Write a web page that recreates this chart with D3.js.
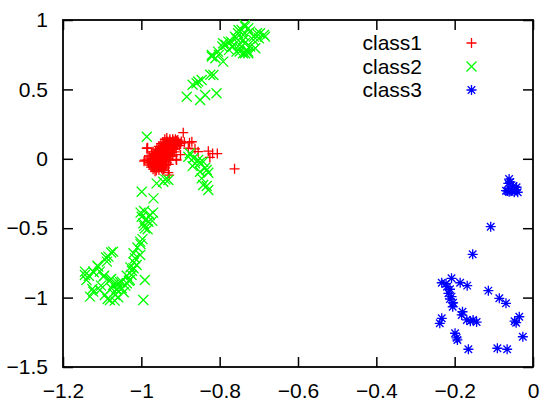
<!DOCTYPE html>
<html><head><meta charset="utf-8">
<script src="https://cdn.jsdelivr.net/npm/d3@7/dist/d3.min.js"></script>
<style>body{margin:0;background:#fff}svg{display:block}text{font-family:"Liberation Sans",Arial,sans-serif;fill:#000}</style>
</head><body><svg id="c" width="545" height="403"></svg>
<script>
const xTicks = [-1.2,-1,-0.8,-0.6,-0.4,-0.2,0];
const yTicks = [1,0.5,0,-0.5,-1,-1.5];
const seriesNames = ["class1","class2","class3"];
const seriesColors = ["#ff0000","#00ff00","#0000ff"];

const class1 = [
[-0.975,-0.06],[-0.972,-0.04],[-0.970,-0.075],[-0.968,-0.02],[-0.965,-0.05],[-0.963,0.0],[-0.962,-0.085],[-0.960,-0.03],[-0.958,0.02],[-0.957,-0.065],[-0.955,0.04],[-0.954,-0.01],[-0.952,-0.045],[-0.950,0.06],[-0.949,0.01],[-0.948,-0.07],[-0.946,0.03],[-0.945,-0.02],[-0.944,0.08],[-0.942,0.05],[-0.941,-0.05],[-0.940,0.0],[-0.938,0.10],[-0.937,0.065],[-0.936,0.02],[-0.935,-0.03],[-0.933,0.11],[-0.932,0.085],[-0.931,0.04],[-0.930,0.0],[-0.928,0.13],[-0.927,0.10],[-0.926,0.06],[-0.925,0.03],[-0.923,0.12],[-0.921,0.08],[-0.920,0.14],[-0.918,0.105],[-0.916,0.125],[-0.914,0.09],[-0.912,0.115],[-0.910,0.13],[-0.908,0.10],[-0.905,0.12],[-0.900,0.11],
[-0.985,-0.01],[-0.980,0.02],[-0.978,-0.045],[-0.982,-0.03],[-0.970,0.05],[-0.966,0.03],[-0.960,0.07],[-0.955,0.09],[-0.950,0.11],[-0.945,0.12],[-0.940,0.14],[-0.935,0.15],[-0.965,-0.09],[-0.955,-0.08],[-0.945,-0.085],[-0.940,-0.065],[-0.930,-0.04],[-0.925,-0.01],[-0.920,0.02],[-0.915,0.05],[-0.960,0.045],[-0.952,0.075],[-0.943,0.095],[-0.948,-0.035],[-0.938,-0.015],[-0.928,0.015],[-0.935,0.045],[-0.958,-0.055],[-0.967,-0.065],[-0.972,-0.005],[-0.962,0.015],
[-0.977,0.005],[-0.974,0.035],[-0.969,0.015],[-0.964,0.055],[-0.959,-0.015],[-0.956,0.065],[-0.953,0.025],[-0.951,-0.06],[-0.947,0.045],[-0.944,0.005],[-0.942,0.11],[-0.939,0.075],[-0.937,-0.045],[-0.934,0.125],[-0.933,0.025],[-0.929,0.07],[-0.927,0.14],[-0.924,0.095],[-0.922,0.045],[-0.919,0.13],[-0.917,0.07],[-0.913,0.14],[-0.911,0.075],[-0.907,0.135],[-0.903,0.095],[-0.898,0.125],[-0.952,-0.025],[-0.946,-0.055],[-0.943,-0.075],[-0.961,-0.07],[-0.971,-0.055],[-0.976,-0.025],[-0.966,-0.035],[-0.957,0.005],[-0.953,0.05],[-0.948,0.085],[-0.941,0.03],[-0.936,0.09],[-0.932,0.06],[-0.926,0.115],
[-0.993,-0.017],[-0.984,0.079],[-0.986,0.076],[-0.991,-0.009],[-0.893,0.188],[-0.890,0.120],[-0.877,0.115],[-0.871,0.123],[-0.880,0.076],[-0.863,0.072],[-0.855,0.051],[-0.829,0.055],[-0.818,0.038],[-0.806,0.038],[-0.825,0.010],[-0.762,-0.072],[-0.931,-0.100],[-0.929,-0.117],[-0.911,-0.005],[-0.910,-0.009],[-0.900,0.030]
];

const class2 = [
[-0.735,0.952],[-0.752,0.928],[-0.723,0.916],[-0.697,0.904],[-0.684,0.880],[-0.761,0.880],[-0.740,0.856],[-0.714,0.856],[-0.778,0.844],[-0.791,0.832],[-0.769,0.808],[-0.748,0.796],[-0.727,0.772],[-0.757,0.772],[-0.735,0.760],[-0.820,0.748],[-0.804,0.772],[-0.791,0.700],
[-0.736,0.964],[-0.727,0.940],[-0.744,0.928],[-0.753,0.904],[-0.705,0.904],[-0.687,0.892],[-0.700,0.868],[-0.713,0.880],[-0.740,0.892],[-0.758,0.868],[-0.771,0.844],[-0.784,0.821],[-0.767,0.809],[-0.749,0.821],[-0.736,0.833],[-0.722,0.809],[-0.709,0.797],[-0.731,0.785],[-0.749,0.773],[-0.740,0.761],[-0.727,0.761],[-0.793,0.809],[-0.776,0.785],[-0.802,0.749],[-0.811,0.725],[-0.820,0.737],
[-0.816,0.604],[-0.846,0.568],[-0.859,0.544],[-0.884,0.447],[-0.837,0.460],[-0.808,0.472],[-0.850,0.424],[-0.869,0.533],[-0.855,0.557],[-0.824,0.605],
[-0.986,0.159],
[-0.876,0.040],[-0.867,0.004],[-0.855,-0.009],[-0.842,-0.021],[-0.863,-0.033],[-0.833,-0.081],[-0.850,-0.093],[-0.846,-0.141],[-0.842,-0.189],[-0.829,-0.225],[-0.880,0.015],[-0.869,-0.053],[-0.851,-0.029],[-0.837,-0.065],[-0.829,-0.100],[-0.833,-0.196],
[-0.944,-0.165],[-0.931,-0.153],[-0.961,-0.177],[-0.969,-0.285],[-0.999,-0.237],[-0.939,-0.148],
[-1.002,-0.388],[-0.993,-0.376],[-0.970,-0.388],[-0.988,-0.435],[-0.993,-0.483],[-0.984,-0.507],[-0.972,-0.447],[-0.997,-0.579],[-1.002,-0.615],[-1.010,-0.639],[-0.982,-0.453],[-0.999,-0.417],[-0.978,-0.405],[-0.991,-0.501],[-0.995,-0.465],[-1.003,-0.597],
[-1.072,-0.669],[-1.084,-0.705],[-1.088,-0.741],[-1.110,-0.777],[-1.123,-0.813],[-1.144,-0.837],[-1.140,-0.873],[-1.106,-0.813],[-1.097,-0.849],[-1.080,-0.873],[-1.072,-0.909],[-1.059,-0.897],[-1.050,-0.885],[-1.037,-0.897],[-1.029,-0.873],[-1.025,-0.837],[-1.020,-0.789],[-1.012,-0.765],[-1.016,-0.717],[-1.003,-0.693],[-1.020,-0.681],[-0.991,-0.873],[-0.995,-1.017],[-1.131,-0.993],[-1.123,-0.957],[-1.106,-0.945],[-1.093,-0.981],[-1.080,-1.017],[-1.063,-0.945],[-1.076,-0.933],[-1.050,-0.933],[-1.067,-0.981],[-1.144,-0.813],
[-1.019,-0.746],[-1.028,-0.782],[-1.024,-0.806],[-1.037,-0.842],[-1.032,-0.878],[-1.041,-0.914],[-1.054,-0.890],[-1.063,-0.938],[-1.059,-0.998],[-1.068,-1.022],[-1.086,-1.010],[-1.103,-0.914],[-1.121,-0.818],[-1.134,-0.842],[-1.125,-0.938],[-1.112,-0.770],[-1.090,-0.711],[-1.077,-0.675],[-1.095,-0.842],[-1.077,-0.866],[-1.045,-0.962]
];

const class3 = [
[-0.061,-0.146],[-0.063,-0.177],[-0.050,-0.196],[-0.042,-0.205],[-0.069,-0.230],[-0.054,-0.225],[-0.039,-0.241],[-0.048,-0.241],[-0.061,-0.237],[-0.058,-0.167],[-0.044,-0.225],[-0.065,-0.232],
[-0.108,-0.489],[-0.154,-0.688],
[-0.233,-0.893],[-0.208,-0.861],[-0.220,-0.921],[-0.186,-0.893],[-0.168,-0.914],[-0.216,-0.969],[-0.208,-0.993],[-0.204,-1.037],[-0.212,-1.010],[-0.205,-1.066],[-0.180,-1.102],[-0.182,-1.125],[-0.169,-1.161],[-0.153,-1.161],[-0.144,-1.176],[-0.160,-1.170],[-0.233,-1.149],[-0.238,-1.185],[-0.199,-1.257],[-0.193,-1.305],[-0.195,-1.290],[-0.165,-1.372],[-0.114,-0.950],[-0.086,-1.005],[-0.069,-1.041],[-0.035,-1.138],[-0.043,-1.181],[-0.047,-1.170],[-0.026,-1.282],[-0.091,-1.365],[-0.066,-1.372],[-0.212,-0.940],[-0.222,-0.900]
];

const allSeries = [class1, class2, class3];

const svg = d3.select("#c");
const L = 63, R = 533, T = 20, B = 367;
const x = d3.scaleLinear().domain([-1.2, 0]).range([L, R]);
const y = d3.scaleLinear().domain([-1.5, 1]).range([B, T]);
const tickLen = 10;

const s = 5;
const shapes = [
  `M${-s},0H${s}M0,${-s}V${s}`,
  `M${-s},${-s}L${s},${s}M${-s},${s}L${s},${-s}`,
  `M${-s},0H${s}M0,${-s}V${s}M${-s*0.75},${-s*0.75}L${s*0.75},${s*0.75}M${-s*0.75},${s*0.75}L${s*0.75},${-s*0.75}`
];

// axes
const gx = svg.append("g").attr("transform", `translate(0,${B})`)
  .call(d3.axisBottom(x).tickValues(xTicks).tickSize(-tickLen).tickPadding(16).tickFormat(d3.format("~g")));
const gxt = svg.append("g").attr("transform", `translate(0,${T})`)
  .call(d3.axisTop(x).tickValues(xTicks).tickSize(-tickLen).tickFormat(""));
const gy = svg.append("g").attr("transform", `translate(${L},0)`)
  .call(d3.axisLeft(y).tickValues(yTicks).tickSize(-tickLen).tickPadding(15).tickFormat(d3.format("~g")));
const gyr = svg.append("g").attr("transform", `translate(${R},0)`)
  .call(d3.axisRight(y).tickValues(yTicks).tickSize(-tickLen).tickFormat(""));
[gx,gxt,gy,gyr].forEach(g=>{
  g.select(".domain").remove();
  g.selectAll(".tick line").attr("stroke","#000").attr("stroke-width",1.5);
  g.selectAll(".tick text").attr("font-size",21).attr("font-family","Liberation Sans, Arial, sans-serif").attr("fill","#000");
});
gx.selectAll(".tick text").attr("dy","0.71em");
svg.append("rect").attr("x",L).attr("y",T).attr("width",R-L).attr("height",B-T)
  .attr("fill","none").attr("stroke","#000").attr("stroke-width",1.8);

// points
allSeries.forEach((data, i) => {
  svg.append("g").selectAll("path").data(data).join("path")
    .attr("transform", d => `translate(${x(d[0])},${y(d[1])})`)
    .attr("d", shapes[i]).attr("fill","none")
    .attr("stroke", seriesColors[i]).attr("stroke-width", 1.3);
});

// legend
const lg = svg.append("g");
seriesNames.forEach((n, i) => {
  const yy = 43 + i*23.5;
  lg.append("text").attr("x", 422).attr("y", yy).attr("dy","0.35em")
    .attr("text-anchor","end").attr("font-size",21).text(n);
  lg.append("path").attr("transform", `translate(471.5,${yy})`).attr("d", shapes[i])
    .attr("fill","none").attr("stroke", seriesColors[i]).attr("stroke-width",1.3);
});
</script></body></html>
